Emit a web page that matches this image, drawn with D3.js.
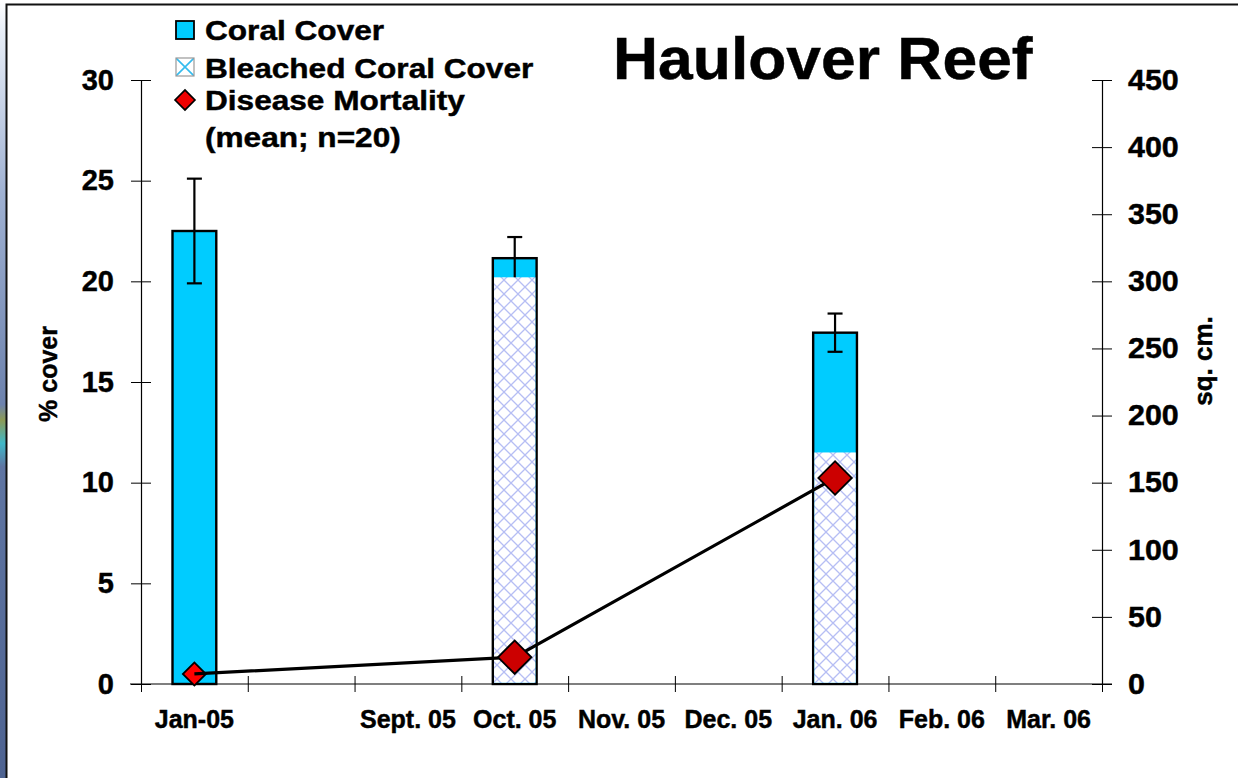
<!DOCTYPE html>
<html>
<head>
<meta charset="utf-8">
<script src="https://cdn.jsdelivr.net/npm/d3@7"></script>
<style>
body { margin: 0; background: #fff; overflow: hidden; }
text { font-family: "Liberation Sans", Arial, sans-serif; font-weight: bold; fill: #000; stroke: #000; stroke-width: 0.45px; }
</style>
</head>
<body>
<svg id="chart" width="1238" height="778"></svg>
<script>
// month slots along the x axis (second slot has no label)
var categories = ["Jan-05", "", "Sept. 05", "Oct. 05", "Nov. 05", "Dec. 05", "Jan. 06", "Feb. 06", "Mar. 06"];
// surveys
var sampleDates = ["Jan-05", "Oct. 05", "Jan. 06"];
var coralCover = [22.5, 21.15, 17.45];      // % cover
var coralErr = [2.6, 1.05, 0.95];
var bleachedCover = [0, 20.2, 11.5];        // % cover
var diseaseMortality = [7.5, 20, 153.5];    // sq. cm.
var leftTicks = [0, 5, 10, 15, 20, 25, 30];
var rightTicks = [0, 50, 100, 150, 200, 250, 300, 350, 400, 450];
var legendLabels = ["Coral Cover", "Bleached Coral Cover", "Disease Mortality", "(mean; n=20)"];

var svg = d3.select("#chart");
var defs = svg.append("defs");

// slide background peeking in at the left edge
var bg = defs.append("linearGradient").attr("id", "slidebg")
	.attr("x1", 0).attr("y1", 0).attr("x2", 0).attr("y2", 1);
bg.append("stop").attr("offset", "0%").attr("stop-color", "#ffffff");
bg.append("stop").attr("offset", "4%").attr("stop-color", "#e8eef7");
bg.append("stop").attr("offset", "25%").attr("stop-color", "#9fb1d2");
bg.append("stop").attr("offset", "52%").attr("stop-color", "#6d82ad");
bg.append("stop").attr("offset", "54%").attr("stop-color", "#8c9a55");
bg.append("stop").attr("offset", "57%").attr("stop-color", "#3fb8c8");
bg.append("stop").attr("offset", "60%").attr("stop-color", "#5f75a2");
bg.append("stop").attr("offset", "100%").attr("stop-color", "#4e6391");

// cross hatch for bleached coral
var hatch = defs.append("pattern").attr("id", "hatch")
	.attr("patternUnits", "userSpaceOnUse").attr("width", 14).attr("height", 14);
hatch.append("rect").attr("width", 14).attr("height", 14).attr("fill", "#fff");
hatch.append("path").attr("d", "M0,0L14,14M0,14L14,0")
	.attr("stroke", "#b6bef4").attr("stroke-width", 1.3);

var hatchLeg = defs.append("pattern").attr("id", "hatchLeg")
	.attr("patternUnits", "userSpaceOnUse").attr("width", 18).attr("height", 18)
	.attr("x", 176).attr("y", 58);
hatchLeg.append("rect").attr("width", 18).attr("height", 18).attr("fill", "#fff");
hatchLeg.append("path").attr("d", "M0,0L18,18M0,18L18,0")
	.attr("stroke", "#33bbee").attr("stroke-width", 1.6);

svg.append("rect").attr("x", 0).attr("y", 0).attr("width", 7).attr("height", 778)
	.attr("fill", "url(#slidebg)");
svg.append("rect").attr("x", 7).attr("y", 5).attr("width", 1231).attr("height", 773)
	.attr("fill", "#fff");
svg.append("path").attr("d", "M6.5,778V4.5H1238")
	.attr("fill", "none").attr("stroke", "#111").attr("stroke-width", 2);

var plotLeft = 141, plotRight = 1102, plotTop = 80, plotBottom = 684;

var x = d3.scaleBand().domain(categories).range([plotLeft, plotRight]).padding(0);
var xEdge = d3.scaleLinear().domain([0, categories.length]).range([plotLeft, plotRight]);
var yL = d3.scaleLinear().domain([0, 30]).range([plotBottom, plotTop]);
var yR = d3.scaleLinear().domain([0, 450]).range([plotBottom, plotTop]);
var bw = x.bandwidth() * 0.41;
var cx = function(d) { return x(d) + x.bandwidth() / 2; };

// stretch text horizontally like the original slide
function stretch(sel, k) {
	sel.each(function() {
		var len = this.getComputedTextLength();
		d3.select(this).attr("textLength", len * k).attr("lengthAdjust", "spacingAndGlyphs");
	});
}

// left axis
var gL = svg.append("g").attr("transform", "translate(" + plotLeft + ",0)")
	.call(d3.axisLeft(yL).tickValues(leftTicks).tickSize(10).tickPadding(17).tickSizeOuter(0));
gL.selectAll(".tick").append("line").attr("x2", 10).attr("stroke", "currentColor");
gL.selectAll("text").style("font-size", "29px").attr("font-family", null);

// right axis
var gR = svg.append("g").attr("transform", "translate(" + plotRight + ",0)")
	.call(d3.axisRight(yR).tickValues(rightTicks).tickSize(10).tickPadding(16).tickSizeOuter(0));
gR.selectAll(".tick").append("line").attr("x2", -10).attr("stroke", "currentColor");
gR.selectAll("text").style("font-size", "29px").attr("font-family", null);
stretch(gR.selectAll("text"), 1.05);

// bottom axis: ticks on month boundaries, labels in the middle
var gB = svg.append("g").attr("transform", "translate(0," + plotBottom + ")")
	.call(d3.axisBottom(xEdge).tickValues(d3.range(categories.length + 1)).tickFormat("").tickSize(8).tickSizeOuter(0));
gB.select(".domain").remove();
gB.selectAll(".tick").append("line").attr("y2", -8).attr("stroke", "currentColor");
gB.append("line").attr("x1", plotLeft - 11).attr("x2", plotRight + 10)
	.attr("stroke", "#000").attr("stroke-width", 1.2);

var gX = svg.append("g").attr("transform", "translate(0," + plotBottom + ")")
	.call(d3.axisBottom(x).tickSize(0).tickPadding(26));
gX.select(".domain").remove();
gX.selectAll("text").style("font-size", "25px").attr("font-family", null);

svg.selectAll(".domain").attr("stroke-width", 1.2);

// axis titles
svg.append("text").attr("transform", "translate(57,374) rotate(-90)")
	.attr("text-anchor", "middle").style("font-size", "25px").text("% cover");
svg.append("text").attr("transform", "translate(1212,361) rotate(-90)")
	.attr("text-anchor", "middle").style("font-size", "26px").text("sq. cm.");

// coral cover bars
svg.selectAll(".coral").data(sampleDates).enter().append("rect")
	.attr("class", "coral")
	.attr("x", function(d) { return cx(d) - bw / 2; })
	.attr("y", function(d, i) { return yL(coralCover[i]); })
	.attr("width", bw)
	.attr("height", function(d, i) { return yL(0) - yL(coralCover[i]); })
	.attr("fill", "#00ccff").attr("stroke", "#000").attr("stroke-width", 2.4);

// error bars
var err = svg.selectAll(".err").data(sampleDates).enter().append("g").attr("class", "err")
	.attr("stroke", "#000").attr("stroke-width", 2.2);
err.append("line")
	.attr("x1", cx).attr("x2", cx)
	.attr("y1", function(d, i) { return yL(coralCover[i] + coralErr[i]); })
	.attr("y2", function(d, i) { return yL(coralCover[i] - coralErr[i]); });
err.append("line")
	.attr("x1", function(d) { return cx(d) - 7.5; }).attr("x2", function(d) { return cx(d) + 7.5; })
	.attr("y1", function(d, i) { return yL(coralCover[i] + coralErr[i]); })
	.attr("y2", function(d, i) { return yL(coralCover[i] + coralErr[i]); });
err.append("line")
	.attr("x1", function(d) { return cx(d) - 7.5; }).attr("x2", function(d) { return cx(d) + 7.5; })
	.attr("y1", function(d, i) { return yL(coralCover[i] - coralErr[i]); })
	.attr("y2", function(d, i) { return yL(coralCover[i] - coralErr[i]); });

// bleached part laid over the bar
svg.selectAll(".bleached").data(sampleDates).enter().append("rect")
	.attr("class", "bleached")
	.attr("x", function(d) { return cx(d) - bw / 2 + 1.2; })
	.attr("y", function(d, i) { return yL(bleachedCover[i]); })
	.attr("width", bw - 2.4)
	.attr("height", function(d, i) { return Math.max(0, yL(0) - yL(bleachedCover[i]) - 1.2); })
	.attr("fill", "url(#hatch)");

// disease mortality line + diamonds
var diamond = function(size) { return d3.symbol().type(d3.symbolSquare).size(size)(); };
var pts = sampleDates.map(function(d, i) { return [cx(d), yR(diseaseMortality[i])]; });

svg.append("path").attr("d", diamond(265))
	.attr("transform", "translate(" + pts[0][0] + "," + pts[0][1] + ") rotate(45)")
	.attr("fill", "#ff0000").attr("stroke", "#000").attr("stroke-width", 1.8);

svg.append("path").datum(pts)
	.attr("d", d3.line())
	.attr("fill", "none").attr("stroke", "#000").attr("stroke-width", 3.2);

svg.selectAll(".mort").data(pts.slice(1)).enter().append("path")
	.attr("class", "mort")
	.attr("d", diamond(560))
	.attr("transform", function(d) { return "translate(" + d[0] + "," + d[1] + ") rotate(45)"; })
	.attr("fill", "#cc0000").attr("stroke", "#000").attr("stroke-width", 1.8);

// legend
var leg = svg.append("g");
leg.append("rect").attr("x", 176).attr("y", 21).attr("width", 18).attr("height", 18)
	.attr("fill", "#00ccff").attr("stroke", "#000").attr("stroke-width", 1.8);
leg.append("rect").attr("x", 176).attr("y", 58).attr("width", 18).attr("height", 18)
	.attr("fill", "url(#hatchLeg)").attr("stroke", "#999").attr("stroke-width", 1.2);
leg.append("path").attr("d", diamond(200))
	.attr("transform", "translate(185,100) rotate(45)")
	.attr("fill", "#ee0000").attr("stroke", "#000").attr("stroke-width", 1.6);
var legY = [40, 78, 110, 147];
leg.selectAll("text").data(legendLabels).enter().append("text")
	.attr("x", 205).attr("y", function(d, i) { return legY[i]; })
	.style("font-size", "27px").text(function(d) { return d; });
stretch(leg.selectAll("text"), 1.17);

// title
var title = svg.append("text").attr("x", 613).attr("y", 79)
	.style("font-size", "60px").text("Haulover Reef");
stretch(title, 1.04);
</script>
</body>
</html>
